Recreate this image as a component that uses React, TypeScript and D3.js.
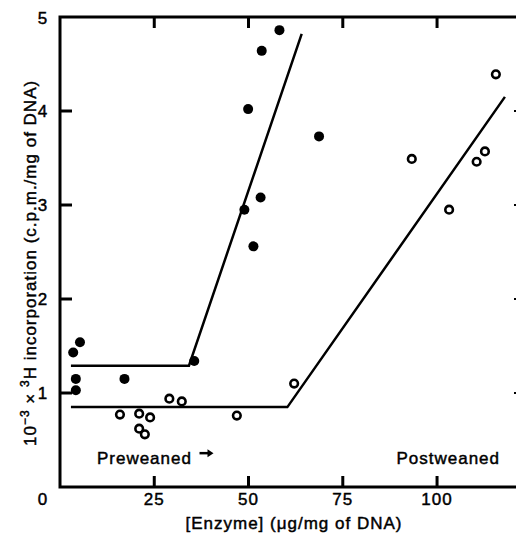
import React from 'react';
import * as d3 from 'd3';

// preweaned (filled circles)
const preX = [5.3, 3.5, 4.2, 4.2, 17.1, 35.6, 48.9, 49.9, 51.3, 53.2, 53.5, 58.2, 68.7];
const preY = [1.54, 1.43, 1.15, 1.03, 1.15, 1.34, 2.95, 4.02, 2.56, 3.08, 4.64, 4.86, 3.73];

// postweaned (open circles)
const postX = [15.9, 21.0, 23.9, 21.0, 22.5, 29.0, 32.3, 46.9, 62.1, 93.3, 103.2, 110.5, 112.7, 115.6];
const postY = [0.77, 0.78, 0.74, 0.62, 0.56, 0.94, 0.91, 0.76, 1.10, 3.49, 2.95, 3.46, 3.57, 4.39];

// fitted broken lines
const preLineX = [2.9, 34.2, 64.1];
const preLineY = [1.29, 1.29, 4.82];
const postLineX = [2.9, 60.3, 118.0];
const postLineY = [0.85, 0.85, 4.15];

const xTicks = [25, 50, 75, 100];
const yTicks = [1, 2, 3, 4];

const font = '"Liberation Sans", Arial, sans-serif';

export default function App() {
  const width = 516;
  const height = 539;

  const x = d3.scaleLinear().domain([0, 122]).range([60, 520]);
  const y = d3.scaleLinear().domain([0, 5]).range([487, 17]);

  const line = d3.line<[number, number]>()
    .x(d => x(d[0]))
    .y(d => y(d[1]));

  const prePath = line(preLineX.map((v, i) => [v, preLineY[i]]));
  const postPath = line(postLineX.map((v, i) => [v, postLineY[i]]));

  // print-like text: slightly heavier than regular
  const textStyle = { fontFamily: font, fontSize: 17, letterSpacing: 1, fill: '#000', stroke: '#000', strokeWidth: 0.45 };

  return (
    <svg width={width} height={height} style={{ position: 'absolute', left: 0, top: 0, background: '#fff' }}>
      {/* frame */}
      <rect x={x(0)} y={y(5)} width={x(122) - x(0)} height={y(0) - y(5)}
        fill="none" stroke="#000" strokeWidth={3} />

      {xTicks.map(t => (
        <g key={'xt' + t}>
          <line x1={x(t)} x2={x(t)} y1={y(0)} y2={y(0) - 11} stroke="#000" strokeWidth={3} />
          <line x1={x(t)} x2={x(t)} y1={y(5)} y2={y(5) + 11} stroke="#000" strokeWidth={3} />
          <text x={x(t)} y={505} textAnchor="middle" style={textStyle}>{t}</text>
        </g>
      ))}
      <text x={x(0) - 17} y={505} textAnchor="middle" style={textStyle}>0</text>

      {yTicks.map(t => (
        <g key={'yt' + t}>
          <line x1={x(0)} x2={x(0) + 12} y1={y(t)} y2={y(t)} stroke="#000" strokeWidth={3} />
          <line x1={x(122)} x2={x(122) - 6} y1={y(t)} y2={y(t)} stroke="#000" strokeWidth={2} />
          <text x={43} y={y(t) + 6} textAnchor="middle" style={textStyle}>{t}</text>
        </g>
      ))}
      <text x={43} y={y(5) + 7} textAnchor="middle" style={textStyle}>5</text>

      {/* fitted lines */}
      <path d={prePath || ''} fill="none" stroke="#000" strokeWidth={2.5} />
      <path d={postPath || ''} fill="none" stroke="#000" strokeWidth={2.5} />

      {/* points */}
      {preX.map((v, i) => (
        <circle key={'p' + i} cx={x(v)} cy={y(preY[i])} r={5} fill="#000" />
      ))}
      {postX.map((v, i) => (
        <circle key={'o' + i} cx={x(v)} cy={y(postY[i])} r={3.8} fill="#fff" stroke="#000" strokeWidth={2.6} />
      ))}

      {/* annotations */}
      <text x={x(9.8)} y={y(0.25)} style={textStyle}>Preweaned</text>
      <path d={`M${x(37)},${y(0.36)}h9`} stroke="#000" strokeWidth={2.5} />
      <path d={`M${x(37) + 8},${y(0.36) - 4}l6,4l-6,4z`} fill="#000" />
      <text x={x(116.7)} y={y(0.25)} textAnchor="end" style={textStyle}>Postweaned</text>

      {/* axis titles */}
      <text x={294} y={529} textAnchor="middle" style={textStyle}>[Enzyme] (μg/mg of DNA)</text>
      <text transform="translate(36,446) rotate(-90)" style={textStyle}>
        10<tspan dy={-7} fontSize={12}>−3</tspan>
        <tspan dy={7}> × </tspan>
        <tspan dy={-7} fontSize={12}>3</tspan>
        <tspan dy={7}>H incorporation (c.p.m./mg of DNA)</tspan>
      </text>
    </svg>
  );
}
